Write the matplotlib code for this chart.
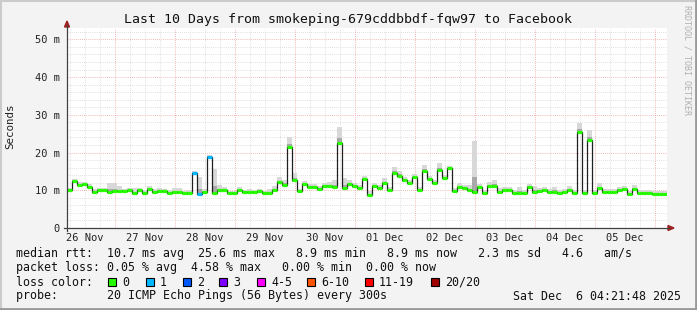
import matplotlib
matplotlib.use('Agg')
import matplotlib.pyplot as plt
import numpy as np
from matplotlib.lines import Line2D
from matplotlib.patches import Rectangle, Polygon

# Médiane du rtt (ms), un point toutes les 2 heures, à partir du 26 Nov 04:48
median = [
    10.0, 12.4, 11.4, 11.6, 10.9, 9.6, 10.0, 10.0, 9.6, 9.8,
    9.8, 9.8, 10.0, 9.3, 10.1, 9.3, 10.4, 9.6, 9.8, 9.8,
    9.3, 9.5, 9.5, 9.3, 9.3, 14.5, 9.0, 9.5, 18.9, 9.3,
    10.0, 10.0, 9.3, 9.3, 10.1, 9.5, 9.5, 9.5, 9.8, 9.3,
    9.3, 10.2, 12.2, 11.4, 21.5, 12.6, 9.8, 11.6, 10.9, 10.9,
    10.4, 11.1, 11.1, 10.9, 22.6, 10.6, 11.6, 11.1, 10.6, 12.9,
    8.7, 11.1, 10.6, 11.8, 10.1, 14.5, 13.8, 12.6, 12.0, 13.4,
    10.1, 15.2, 12.9, 12.0, 15.4, 13.2, 15.8, 9.9, 10.9, 10.6,
    10.1, 9.6, 10.9, 9.2, 11.0, 11.1, 9.6, 10.1, 10.1, 9.3,
    9.2, 9.3, 10.9, 9.6, 9.8, 10.1, 9.6, 9.6, 9.2, 9.6,
    10.2, 9.2, 25.5, 9.2, 23.3, 9.3, 10.6, 9.6, 9.6, 9.6,
    10.1, 10.4, 8.9, 10.4, 9.2, 9.2, 9.2, 9.1, 9.1, 9.1,
]

# Étendue de la fumée au-dessus de la médiane (ms)
spread = [
    0.6, 0.6, 0.8, 0.6, 0.8, 0.8, 0.6, 0.6, 2.2, 2.0,
    1.2, 0.6, 0.6, 1.2, 0.6, 0.8, 0.6, 0.8, 0.8, 0.6,
    0.8, 1.2, 1.0, 0.6, 0.8, 0.6, 4.6, 0.8, 0.4, 6.4,
    1.4, 0.8, 0.6, 0.6, 0.8, 0.6, 0.8, 0.6, 0.6, 0.6,
    1.0, 0.8, 1.2, 1.4, 2.6, 2.0, 0.6, 0.8, 0.8, 0.8,
    0.8, 0.8, 1.0, 1.8, 4.2, 2.6, 1.2, 0.8, 0.8, 1.0,
    1.2, 0.8, 0.8, 1.4, 0.8, 1.6, 1.4, 0.8, 0.8, 0.8,
    0.8, 1.6, 1.0, 0.8, 1.8, 0.8, 0.6, 0.8, 1.0, 0.8,
    1.2, 13.4, 0.8, 0.8, 1.2, 1.6, 1.0, 0.8, 0.8, 0.8,
    1.6, 0.8, 0.8, 1.6, 0.8, 0.8, 0.8, 1.2, 0.8, 0.8,
    0.8, 0.8, 2.2, 1.0, 2.8, 0.8, 1.2, 0.8, 0.8, 0.8,
    0.8, 0.8, 1.0, 1.0, 1.0, 1.0, 1.0, 0.8, 0.8, 0.8,
]

# Pertes de paquets (indices des points avec perte)
loss_idx = [25, 26, 28]
loss_val = [1, 1, 1]

day_labels = ["26 Nov", "27 Nov", "28 Nov", "29 Nov", "30 Nov",
              "01 Dec", "02 Dec", "03 Dec", "04 Dec", "05 Dec"]
y_ticks = [0, 10, 20, 30, 40, 50]
y_labels = ["0", "10 m", "20 m", "30 m", "40 m", "50 m"]

loss_names = ["0", "1", "2", "3", "4-5", "6-10", "11-19", "20/20"]
loss_colors = ["#26ff00", "#00b8ff", "#0059ff", "#7e00ff", "#ff00ff",
               "#ff5500", "#ff0000", "#a10000"]

t0 = 0.2          # début en jours depuis le 26 Nov 00:00
step = 1 / 12     # 2 heures

W, H = 697, 310
MONO = "DejaVu Sans Mono"
plt.rcParams['font.family'] = MONO


def fx(x):
    return x / W


def fy(y):
    return 1 - y / H


fig = plt.figure(figsize=(W / 100, H / 100), dpi=100, facecolor="#f3f3f3")
ax = fig.add_axes([fx(67), fy(228), 600 / W, 200 / H])
ax.set_facecolor("white")

med = np.array(median)
spr = np.array(spread)
n = len(med)
edges = t0 + np.arange(n + 1) * step
loss = np.zeros(n, dtype=int)
loss[loss_idx] = loss_val

# grille
for d in np.arange(0.25, 10.2, 0.25):
    if abs(d - round(d)) < 1e-6:
        continue
    ax.axvline(d, color="#d5d5d5", lw=0.6, ls=(0, (1, 1.5)), zorder=0)
for v in np.arange(2, 53, 2):
    if v % 10 == 0:
        continue
    ax.axhline(v, color="#d5d5d5", lw=0.6, ls=(0, (1, 1.5)), zorder=0)
for d in range(1, 11):
    ax.axvline(d, color="#f0a0a0", lw=0.6, ls=(0, (1, 1.5)), zorder=0.5)
for v in y_ticks[1:]:
    ax.axhline(v, color="#f0a0a0", lw=0.6, ls=(0, (1, 1.5)), zorder=0.5)

# fumée
lo = np.append(med - 0.3, med[-1] - 0.3)
hi = np.append(med + spr, med[-1] + spr[-1])
mid = np.append(med + spr * 0.3, med[-1] + spr[-1] * 0.3)
ax.fill_between(edges, lo, hi, step="post", color="#d8d8d8", lw=0, zorder=1)
ax.fill_between(edges, lo, mid, step="post", color="#a8a8a8", lw=0, zorder=1.2)

# médiane
ax.step(edges, np.append(med, med[-1]), where="post", color="#202020",
        lw=0.9, zorder=2)
cols = [loss_colors[min(l, 7)] for l in loss]
ax.hlines(med, edges[:-1], edges[1:], colors=cols, lw=2.3, zorder=3)

ax.set_xlim(t0, t0 + 10)
ax.set_ylim(0, 53)
ax.set_xticks(np.arange(10) + 0.5, labels=day_labels)
ax.set_yticks(y_ticks, labels=y_labels)
ax.tick_params(length=0, labelsize=7.5, colors="#222222")
ax.tick_params(axis="y", pad=5)
ax.tick_params(axis="x", pad=3.5)
for s in ax.spines.values():
    s.set_visible(False)

# axes et flèches
fig.add_artist(Line2D([fx(67), fx(67)], [fy(231), fy(25)], color="#404040", lw=0.9))
fig.add_artist(Line2D([fx(64), fx(669)], [fy(228), fy(228)], color="#404040", lw=0.9))
fig.add_artist(Polygon([[fx(64.5), fy(27)], [fx(69.5), fy(27)], [fx(67), fy(21)]],
                       closed=True, color="#a02020"))
fig.add_artist(Polygon([[fx(668), fy(225.5)], [fx(668), fy(230.5)], [fx(674), fy(228)]],
                       closed=True, color="#a02020"))

# bordure
fig.add_artist(Line2D([0, 1], [fy(0.5), fy(0.5)], color="#cbcbcb", lw=1.5))
fig.add_artist(Line2D([fx(0.5), fx(0.5)], [0, 1], color="#cbcbcb", lw=1.5))
fig.add_artist(Line2D([0, 1], [fy(309), fy(309)], color="#999999", lw=2))
fig.add_artist(Line2D([fx(696), fx(696)], [0, 1], color="#999999", lw=2))

# textes
fig.text(fx(348), fy(23), "Last 10 Days from smokeping-679cddbbdf-fqw97 to Facebook",
         ha="center", va="baseline", fontsize=9.5, color="#111111")
fig.text(fx(10), fy(126), "Seconds", rotation=90, ha="center", va="center",
         fontsize=7.8, color="#222222")
fig.text(fx(687), fy(5), "RRDTOOL / TOBI OETIKER", rotation=-90, ha="center", va="top",
         fontsize=6, color="#b0b0b0")

rows = [257.5, 271.5, 285.5, 299.5]
fs = 8.4
fig.text(fx(16), fy(rows[0]),
         "median rtt:  10.7 ms avg  25.6 ms max   8.9 ms min   8.9 ms now   2.3 ms sd   4.6   am/s",
         ha="left", va="baseline", fontsize=fs, color="#111111")
fig.text(fx(16), fy(rows[1]),
         "packet loss: 0.05 % avg  4.58 % max   0.00 % min  0.00 % now",
         ha="left", va="baseline", fontsize=fs, color="#111111")
fig.text(fx(16), fy(rows[2]), "loss color:",
         ha="left", va="baseline", fontsize=fs, color="#111111")
box_x = [108, 146, 183, 219, 257, 307, 365, 431]
for bx, name, c in zip(box_x, loss_names, loss_colors):
    fig.add_artist(Rectangle((fx(bx), fy(286)), 8 / W, 8 / H, facecolor=c,
                             edgecolor="black", lw=0.8))
    fig.text(fx(bx + 14), fy(rows[2]), name, ha="left", va="baseline",
             fontsize=fs, color="#111111")
fig.text(fx(16), fy(rows[3]),
         "probe:       20 ICMP Echo Pings (56 Bytes) every 300s",
         ha="left", va="baseline", fontsize=fs, color="#111111")
fig.text(fx(681), fy(rows[3]), "Sat Dec  6 04:21:48 2025",
         ha="right", va="baseline", fontsize=fs, color="#111111")

fig.savefig("out.png", dpi=100, facecolor=fig.get_facecolor())
